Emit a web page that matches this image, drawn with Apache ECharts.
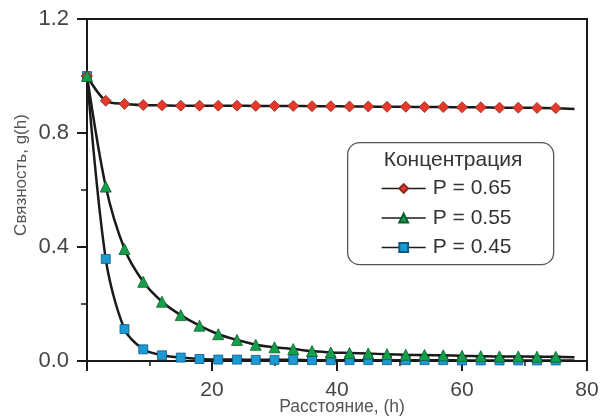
<!DOCTYPE html>
<html>
<head>
<meta charset="utf-8">
<script src="https://cdn.jsdelivr.net/npm/echarts@6/dist/echarts.min.js"></script>
<style>html,body{margin:0;padding:0;background:#fff;}#c{width:602px;height:417px;}</style>
</head>
<body>
<div id="c"></div>
<script>
var xValues = [0,3,6,9,12,15,18,21,24,27,30,33,36,39,42,45,48,51,54,57,60,63,66,69,72,75];
var p65 = [1.0,0.913,0.902,0.898,0.897,0.896,0.896,0.896,0.896,0.895,0.895,0.895,0.894,0.894,0.893,0.893,0.892,0.892,0.891,0.891,0.890,0.890,0.889,0.889,0.888,0.887];
var p55 = [1.0,0.612,0.393,0.278,0.208,0.161,0.124,0.094,0.074,0.057,0.048,0.042,0.035,0.030,0.028,0.026,0.024,0.022,0.021,0.020,0.018,0.017,0.016,0.016,0.015,0.015];
var p45 = [1.0,0.358,0.112,0.041,0.020,0.012,0.007,0.005,0.005,0.004,0.004,0.004,0.003,0.003,0.003,0.003,0.003,0.003,0.003,0.003,0.002,0.002,0.002,0.002,0.002,0.002];
var lineEndX = 78;
var lineEnd = {p65: 0.884, p55: 0.013, p45: 0.002};
var seriesNames = ['P = 0.65','P = 0.55','P = 0.45'];
var legendTitle = 'Концентрация';
var xTitle = 'Расстояние, (h)';
var yTitle = 'Связность, g(h)';

function build(vals, endY) {
  var d = xValues.map(function (x, i) { return [x, vals[i]]; });
  d.push({ value: [lineEndX, endY], symbol: 'none' });
  return d;
}

var chart = echarts.init(document.getElementById('c'), null, { renderer: 'canvas' });
var font = 'Arial, "Liberation Sans", sans-serif';
function mk(name, vals, endY, symbol, size, color, border, z) {
  return {
    name: name, type: 'line', data: build(vals, endY),
    smooth: 0.3,
    symbol: symbol, symbolSize: size, showAllSymbol: true,
    lineStyle: { color: '#1a1a1a', width: 2.5 },
    itemStyle: { color: color, borderColor: border, borderWidth: 0.8 },
    z: z
  };
}
chart.setOption({
  animation: false,
  backgroundColor: '#fff',
  grid: { left: 87, right: 15, top: 19, bottom: 56, outerBoundsMode: 'none', containLabel: false, show: true, borderColor: '#1a1a1a', borderWidth: 2, backgroundColor: 'transparent' },
  xAxis: {
    type: 'value', min: 0, max: 80, interval: 20,
    axisLine: { lineStyle: { color: '#1a1a1a', width: 2 } },
    axisTick: { inside: false, length: 10, lineStyle: { color: '#1a1a1a', width: 2 } },
    minorTick: { show: true, splitNumber: 2, length: 5, lineStyle: { color: '#1a1a1a', width: 1.5 } },
    axisLabel: { fontFamily: font, fontSize: 21, color: '#444', margin: 19, formatter: function (v) { return v === 0 ? '' : String(v); } },
    splitLine: { show: false }
  },
  yAxis: {
    type: 'value', min: 0, max: 1.2, interval: 0.4,
    axisLine: { lineStyle: { color: '#1a1a1a', width: 2 } },
    axisTick: { inside: false, length: 10, lineStyle: { color: '#1a1a1a', width: 2 } },
    minorTick: { show: true, splitNumber: 2, length: 6, lineStyle: { color: '#1a1a1a', width: 1.5 } },
    axisLabel: { fontFamily: font, fontSize: 22, color: '#444', margin: 18, formatter: function (v) { return v.toFixed(1); } },
    splitLine: { show: false }
  },
  legend: {
    orient: 'vertical', left: 376, top: 173, itemGap: 8.5,
    itemWidth: 44, itemHeight: 11,
    lineStyle: { width: 1.4, color: '#1a1a1a' },
    textStyle: { fontFamily: font, fontSize: 21, color: '#333', padding: [0,0,0,2] },
    data: seriesNames
  },
  graphic: [
    { type: 'rect', left: 347, top: 142, shape: { width: 206, height: 122, r: 12 }, style: { fill: '#fff', stroke: '#555', lineWidth: 1.3 }, z: 1 },
    { type: 'text', x: 453, y: 160, style: { text: legendTitle, font: '21px ' + font, fill: '#333', align: 'center', verticalAlign: 'middle' }, z: 2 },
    { type: 'text', x: 21, y: 175, rotation: Math.PI / 2, style: { text: yTitle, font: '17px ' + font, fill: '#555', align: 'center', verticalAlign: 'middle' }, z: 2 },
    { type: 'text', x: 342, y: 407, style: { text: xTitle, font: '17.5px ' + font, fill: '#555', align: 'center', verticalAlign: 'middle' }, z: 2 }
  ],
  series: [
    mk(seriesNames[0], p65, lineEnd.p65, 'diamond', 11, '#e53a2b', '#8a2a20', 4),
    mk(seriesNames[1], p55, lineEnd.p55, 'triangle', 11, '#14a04b', '#0d5a2c', 5),
    mk(seriesNames[2], p45, lineEnd.p45, 'rect', 9, '#1b9ad6', '#105a80', 3)
  ]
});
</script>
</body>
</html>
